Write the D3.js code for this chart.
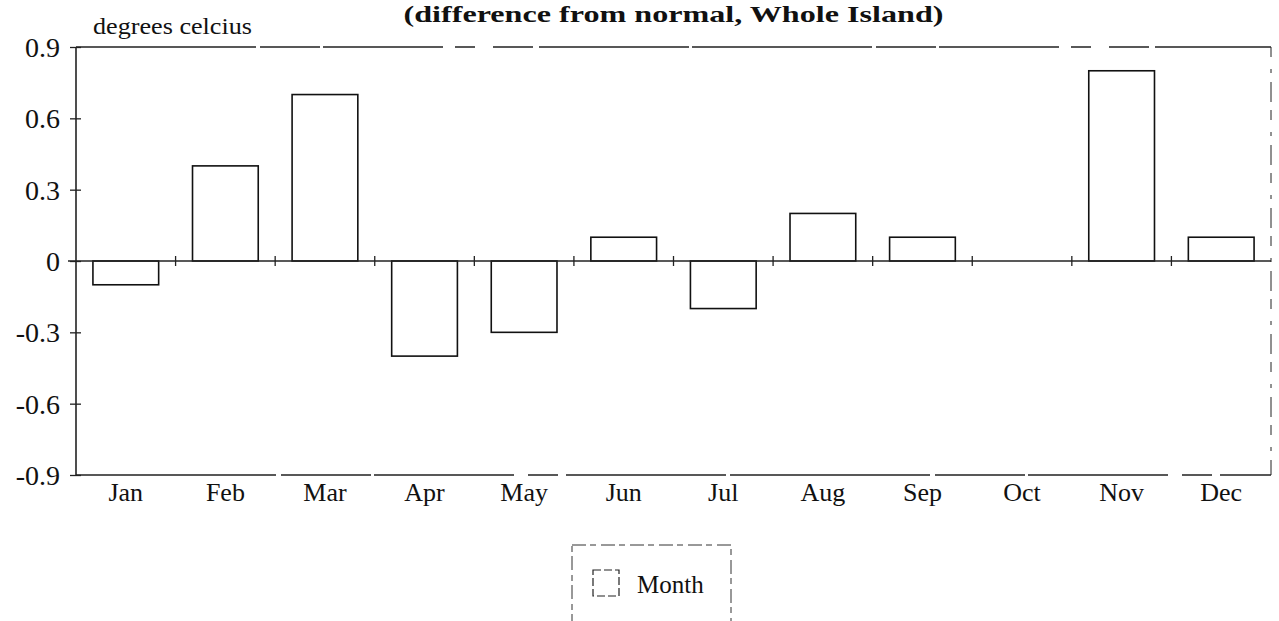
<!DOCTYPE html>
<html><head><meta charset="utf-8">
<script src="https://cdn.jsdelivr.net/npm/d3@7/dist/d3.min.js"></script>
<style>body{margin:0;background:#fff}svg{display:block}</style>
</head><body>
<svg id="c" width="1279" height="621"></svg>
<script>
const months = ["Jan","Feb","Mar","Apr","May","Jun","Jul","Aug","Sep","Oct","Nov","Dec"];
const values = [-0.1,0.4,0.7,-0.4,-0.3,0.1,-0.2,0.2,0.1,0,0.8,0.1];
const yTicks = [0.9,0.6,0.3,0,-0.3,-0.6,-0.9];
const yTickLabels = ["0.9","0.6","0.3","0","-0.3","-0.6","-0.9"];
const titleText = "(difference from normal, Whole Island)";
const yAxisTitle = "degrees celcius";
const legendLabel = "Month";

const svg = d3.select("#c");
const L = 76, R = 1271, T = 47, B = 475;
const font = "'Liberation Serif','DejaVu Serif',serif";
const x = d3.scaleBand().domain(months).range([L, R]).paddingInner(0.34).paddingOuter(0.17);
const xb = d3.scaleBand().domain(months).range([L, R]);
const y = d3.scaleLinear().domain([-0.9, 0.9]).range([B, T]);

// title
svg.append("text").attr("x", (L + R) / 2).attr("y", 22).attr("text-anchor", "middle")
  .attr("font-family", font).attr("font-weight", "bold").attr("font-size", 24)
  .attr("textLength", 540).attr("lengthAdjust", "spacingAndGlyphs")
  .attr("fill", "#111").text(titleText);
svg.append("text").attr("x", 93).attr("y", 34).attr("font-family", font)
  .attr("font-size", 24).attr("textLength", 159).attr("lengthAdjust", "spacingAndGlyphs")
  .attr("fill", "#111").text(yAxisTitle);

// frame
const frame = svg.append("g").attr("stroke", "#222").attr("fill", "none");
frame.append("line").attr("x1", L).attr("x2", R).attr("y1", T).attr("y2", T).attr("stroke-width", 1.4).attr("stroke-dasharray", "180,4,60,3,120,12,20,18,40,6,150,3");
frame.append("line").attr("x1", L).attr("x2", R).attr("y1", B).attr("y2", B).attr("stroke-width", 1.4).attr("stroke-dasharray", "200,5,90,3,140,14,30,8,160,4");
frame.append("line").attr("x1", R).attr("x2", R).attr("y1", T).attr("y2", B).attr("stroke-width", 1).attr("stroke-dasharray", "10,12,4,9,20,8");
frame.append("line").attr("x1", L).attr("x2", L).attr("y1", T).attr("y2", B).attr("stroke-width", 1.6);

// y axis
const yAxis = d3.axisLeft(y).tickValues(yTicks).tickSize(6).tickPadding(10)
  .tickFormat((d, i) => yTickLabels[i]);
const ya = svg.append("g").attr("transform", `translate(${L},0)`).call(yAxis);
ya.select(".domain").remove();
ya.selectAll("line").attr("x1", 5).attr("stroke", "#222").attr("stroke-width", 1.3);
ya.selectAll("text").attr("font-family", font).attr("font-size", 28).attr("fill", "#111").attr("dy", "0.34em");

// bars
svg.append("g").selectAll("rect").data(values).join("rect")
  .attr("x", (d, i) => x(months[i]))
  .attr("width", x.bandwidth())
  .attr("y", d => y(Math.max(0, d)))
  .attr("height", d => Math.abs(y(d) - y(0)))
  .attr("fill", "#fff").attr("stroke", "#111").attr("stroke-width", 1.6);

// zero line with category boundary ticks
const z = svg.append("g").attr("stroke", "#222");
z.append("line").attr("x1", L - 8).attr("x2", R).attr("y1", y(0)).attr("y2", y(0)).attr("stroke-width", 1.3);
z.selectAll("line.t").data(months.slice(1)).join("line").attr("class", "t")
  .attr("x1", d => xb(d)).attr("x2", d => xb(d))
  .attr("y1", y(0) - 5).attr("y2", y(0) + 5).attr("stroke-width", 1.3);

// x labels
const xAxis = d3.axisBottom(x).tickSize(0).tickPadding(8);
const xa = svg.append("g").attr("transform", `translate(0,${B})`).call(xAxis);
xa.select(".domain").remove();
xa.selectAll("text").attr("font-family", font).attr("font-size", 26).attr("fill", "#111");

// legend
const lg = svg.append("g");
lg.append("rect").attr("x", 572).attr("y", 545).attr("width", 159).attr("height", 100)
  .attr("fill", "none").attr("stroke", "#333").attr("stroke-width", 1).attr("stroke-dasharray", "14,4,6,5");
lg.append("rect").attr("x", 593).attr("y", 570).attr("width", 26).attr("height", 26)
  .attr("fill", "#fff").attr("stroke", "#222").attr("stroke-width", 1.2).attr("stroke-dasharray", "8,3");
lg.append("text").attr("x", 637).attr("y", 593).attr("font-family", font).attr("font-size", 25)
  .attr("fill", "#111").text(legendLabel);
</script>
</body></html>
